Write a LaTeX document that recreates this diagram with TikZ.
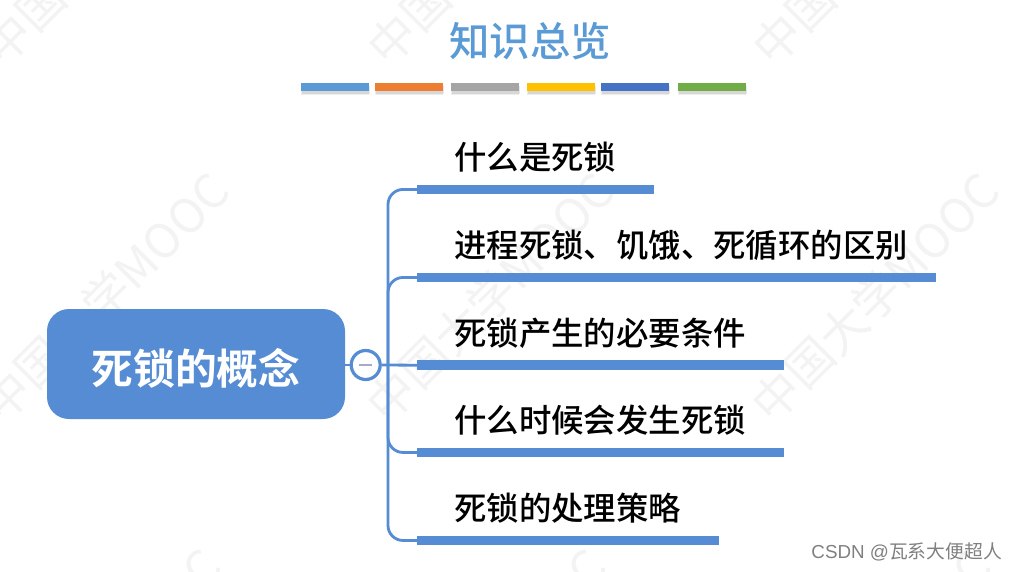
\documentclass[tikz,border=0pt]{standalone}
\usepackage{fontspec}
\setmainfont{Liberation Sans}
\newfontfamily\cjk{Noto Sans CJK SC}
\newfontfamily\cjkm{Noto Sans CJK SC Medium}
\newfontfamily\cjkb{Noto Sans CJK SC Bold}
\usetikzlibrary{calc}
\definecolor{mapblue}{HTML}{568CD4}
\definecolor{titleblue}{HTML}{5B9BD5}
\definecolor{wm}{HTML}{F3F3F3}
\tikzset{
  topbar/.style={fill=#1,draw=none,minimum width=68pt,minimum height=8pt,inner sep=0pt,anchor=north west},
  barshadow/.style={fill=black,fill opacity=#1,draw=none,minimum width=68pt,minimum height=8pt,inner sep=0pt,anchor=north west},
  item/.style={font=\cjkm\fontsize{32.4pt}{34pt}\selectfont,text=black,anchor=west,inner sep=0pt},
  ubar/.style={fill=mapblue,draw=none,minimum height=9.5pt,inner sep=0pt,anchor=north west},
  link/.style={draw=mapblue,line width=2.8pt},
  watermark/.style={font=\cjk\fontsize{47pt}{47pt}\selectfont,text=wm,rotate=45,anchor=center,inner sep=0pt}
}
\begin{document}
\begin{tikzpicture}[x=1pt,y=-1pt]
\useasboundingbox (0,0) rectangle (1018,571);
\fill[white] (0,0) rectangle (1018,571);
% watermarks
\foreach \i/\dx in {a/0,b/385,c/770}{
  \node[watermark] (wmtop\i) at ({106+\dx},-60) {中国大学MOOC};
  \node[watermark] (wmmid\i) at ({105+\dx},297) {中国大学MOOC};
  \node[watermark] (wmlow\i) at ({97+\dx},673) {中国大学MOOC};
}
% title
\node[font=\cjkm\fontsize{40.4pt}{42pt}\selectfont,text=titleblue,inner sep=0pt] (title) at (530,41) {知识总览};
% colour bars
\foreach \n/\x/\c in {1/301/5B9BD5,2/375/ED7D31,3/451/A5A5A5,4/527/FFC000,5/601/4472C4,6/678/70AD47}{
  \definecolor{barc}{HTML}{\c}
  \node[barshadow=0.07] (sha\n) at (\x,87) {};
  \node[barshadow=0.09] (shb\n) at (\x+1,85.5) {};
  \node[topbar=barc] (bar\n) at (\x,83) {};
}
% central node
\node[fill=mapblue,rounded corners=22pt,minimum width=298pt,minimum height=110pt,inner sep=0pt] (root) at (196,364) {};
\node[font=\cjkb\fontsize{41.8pt}{44pt}\selectfont,text=white,inner sep=0pt] (rootlabel) at (196,368) {死锁的概念};
% underline bars
\node[ubar,minimum width=237pt] (u1) at (417,184.5) {};
\node[ubar,minimum width=519pt] (u2) at (417,272.5) {};
\node[ubar,minimum width=367pt] (u3) at (417,360.25) {};
\node[ubar,minimum width=367pt] (u4) at (417,447.5) {};
\node[ubar,minimum width=302pt] (u5) at (417,535.5) {};
% labels
\node[item] (t1) at (454,157) {什么是死锁};
\node[item] (t2) at (454,245) {进程死锁、饥饿、死循环的区别};
\node[item] (t3) at (454,333) {死锁产生的必要条件};
\node[item] (t4) at (454,420) {什么时候会发生死锁};
\node[item] (t5) at (454,508) {死锁的处理策略};
% connectors
\coordinate (trunk) at (388,365);
\node[circle,draw=mapblue,fill=white,line width=3.2pt,minimum size=29pt,inner sep=0pt] (btn) at (365.7,365) {};
\path[link] (btn.west -| root.east) -- (btn.west);
\path[link] (btn.east) -- (u3.west);
\path[link,rounded corners=15pt] (trunk) |- (u1.west);
\path[link,rounded corners=15pt] (trunk) |- (u2.west);
\path[link,rounded corners=15pt] (trunk) |- (u4.west);
\path[link,rounded corners=15pt] (trunk) |- (u5.west);
% collapse button mark
\definecolor{minusc}{HTML}{A6A8CC}
\draw[draw=minusc,line width=2.6pt] ($(btn.center)+(-6.5,0)$) -- ($(btn.center)+(6.5,0)$);
% csdn mark
\node[font=\fontsize{18.8pt}{20pt}\selectfont,text=black!50,anchor=east,inner sep=0pt] (csdn) at (1002,552) {CSDN @{\cjk 瓦系大便超人}};
\end{tikzpicture}
\end{document}
